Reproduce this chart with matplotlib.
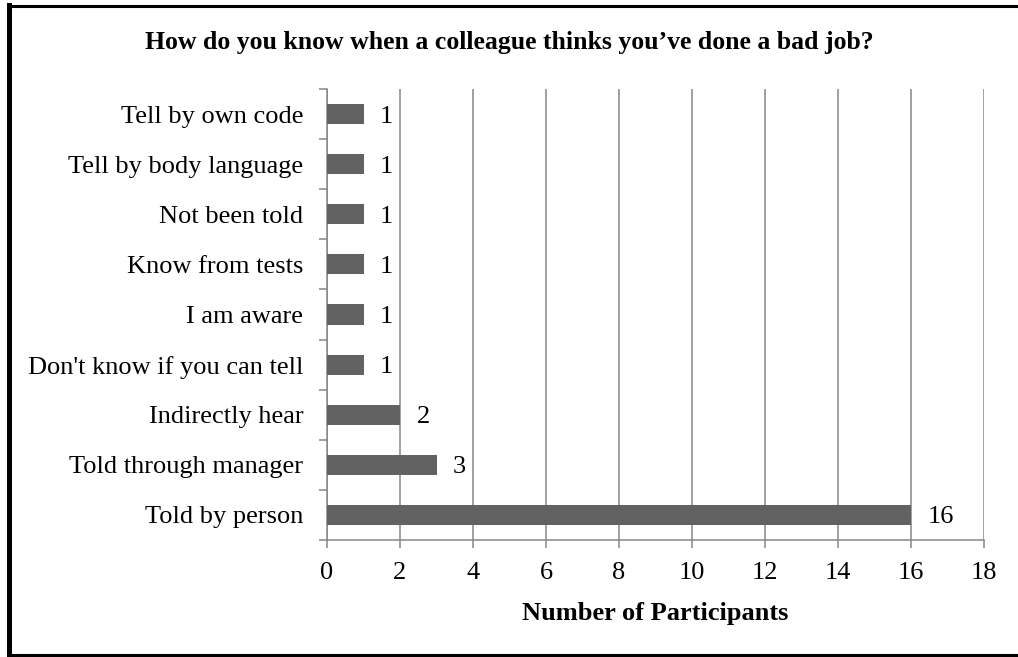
import matplotlib.pyplot as plt
from matplotlib.lines import Line2D

categories = ['Told by person', 'Told through manager', 'Indirectly hear',
              "Don't know if you can tell", 'I am aware', 'Know from tests',
              'Not been told', 'Tell by body language', 'Tell by own code']
counts = [16, 3, 2, 1, 1, 1, 1, 1, 1]
xticks = list(range(0, 20, 2))

plt.rcParams['font.family'] = 'Liberation Serif'
grey = '#868686'
bar_col = '#626262'
fs = 19

fig = plt.figure(figsize=(10.18, 6.57), dpi=100)
ax = fig.add_axes([327/1018, 1 - 540/657, (984 - 327)/1018, (540 - 89)/657])

y = list(range(len(categories)))
ax.barh(y, counts, height=0.4, color=bar_col, zorder=3)
for yi, c in zip(y, counts):
    ax.text(c + 0.45, yi, str(c), va='center_baseline', ha='left', fontsize=fs)

ax.set_xlim(0, 18)
ax.set_ylim(-0.5, len(categories) - 0.5)
ax.set_xticks(xticks)
ax.set_xticklabels([str(t) for t in xticks], fontsize=fs)
ax.set_yticks(y)
ax.set_yticklabels(categories, fontsize=fs)
ax.set_yticks([i - 0.5 for i in range(len(categories) + 1)], minor=True)

ax.tick_params(axis='y', which='major', length=0, pad=17)
ax.tick_params(axis='y', which='minor', length=5.5, width=1.1, color=grey, direction='out')
ax.tick_params(axis='x', length=5.5, width=1.1, color=grey, direction='out', pad=10)

ax.xaxis.grid(True, color=grey, linewidth=1.1, zorder=0)
ax.set_axisbelow(True)
for s in ['top', 'right']:
    ax.spines[s].set_visible(False)
for s in ['left', 'bottom']:
    ax.spines[s].set_color(grey)
    ax.spines[s].set_linewidth(1.1)

ax.set_xlabel('Number of Participants', fontsize=fs, fontweight='bold', labelpad=13)
fig.text(0.5, 1 - 43/657, 'How do you know when a colleague thinks you\u2019ve done a bad job?',
         ha='center', va='center', fontsize=18.5, fontweight='bold')

# frame around the figure (right side runs off the edge)
x0 = 8.5/1018
fig.add_artist(Line2D([x0, x0], [0, 1 - 5/657], transform=fig.transFigure,
                      color='black', linewidth=3.6))
fig.add_artist(Line2D([x0, 1], [1 - 6/657, 1 - 6/657], transform=fig.transFigure,
                      color='black', linewidth=2.2))
fig.add_artist(Line2D([x0, 1], [1 - 655/657, 1 - 655/657], transform=fig.transFigure,
                      color='black', linewidth=2.2))

fig.savefig('out.png', dpi=100)
